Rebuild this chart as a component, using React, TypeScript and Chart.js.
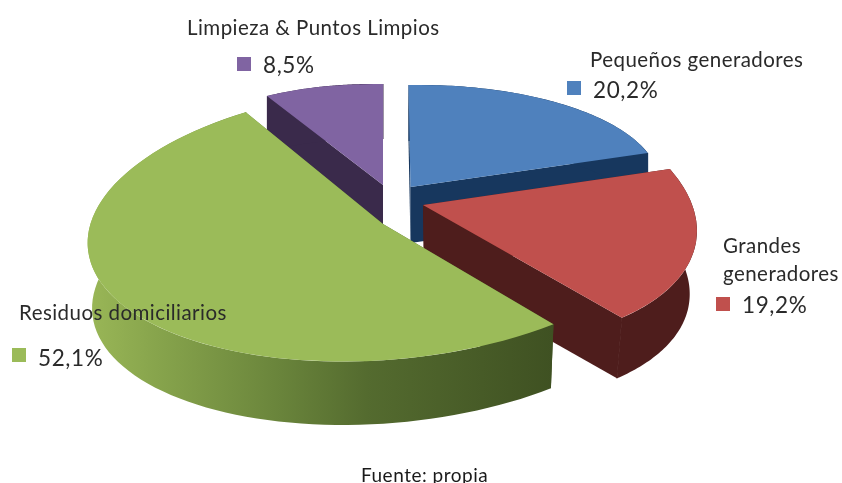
import React, { useEffect, useRef } from "react";
import { Chart, registerables } from "chart.js";

Chart.register(...registerables);

const categories = ["Pequeños generadores", "Grandes generadores", "Residuos domiciliarios", "Limpieza & Puntos Limpios"];
const shares = [20.2, 19.2, 52.1, 8.5];
const shareLabels = ["20,2%", "19,2%", "52,1%", "8,5%"];
const topColors = ["#4f81bd", "#c0504d", "#9bbb59", "#8064a2"];
const wallColors = ["#17375e", "#4e1d1c", "#4f632c", "#3a2a4b"];
const sourceNote = "Fuente: propia";

// Perspective of each exploded slice: [apexX, apexY, m11, m12, m21, m22, wallDx, wallDy, wallScale]
const frames = [
  [410.5, 187, 249, 2, -4, 102, 0, 56, 1],
  [423, 205, 271, 40, 5.6, 139, 1, 64, 0.97],
  [383, 224, 295, -15, -12, 137, 0, 65.5, 0.985],
  [383, 185, 228, 0, 4, 101, 0, 55, 1],
];
const paintOrder = [3, 0, 1, 2];

const pie3d = {
  id: "pie3d",
  beforeDatasetDraw(chart: any) {
    const { ctx } = chart;
    const arcs = chart.getDatasetMeta(0).data;
    for (const i of paintOrder) {
      const arc = arcs[i];
      const [cx, cy, a, b, c, d, dx, dy, s] = frames[i];
      const { startAngle, endAngle, outerRadius: r, x, y } = arc.getProps(
        ["startAngle", "endAngle", "outerRadius", "x", "y"],
        true
      );
      const top = (t: number) => [cx + a * Math.cos(t) + b * Math.sin(t), cy + c * Math.cos(t) + d * Math.sin(t)];
      const low = (t: number) => {
        const p = top(t);
        return [cx + (p[0] - cx) * s + dx, cy + (p[1] - cy) * s + dy];
      };
      let fill: any = wallColors[i];
      if (i === 2) {
        const g = ctx.createLinearGradient(87, 0, 553, 0);
        g.addColorStop(0, "#9ab757");
        g.addColorStop(0.15, "#87a44c");
        g.addColorStop(0.4, "#6b863c");
        g.addColorStop(0.6, "#546b2f");
        g.addColorStop(1, "#3f5122");
        fill = g;
      }
      ctx.save();
      ctx.fillStyle = fill;
      ctx.strokeStyle = fill;
      ctx.lineWidth = 1;
      // radial cut walls
      for (const t of [startAngle, endAngle]) {
        const p = top(t);
        const q = low(t);
        ctx.beginPath();
        ctx.moveTo(cx, cy);
        ctx.lineTo(p[0], p[1]);
        ctx.lineTo(q[0], q[1]);
        ctx.lineTo(cx + dx, cy + dy);
        ctx.closePath();
        ctx.fill();
      }
      // outer curved wall
      const n = 80;
      ctx.beginPath();
      for (let k = 0; k <= n; k++) {
        const p = top(startAngle + ((endAngle - startAngle) * k) / n);
        if (k === 0) ctx.moveTo(p[0], p[1]);
        else ctx.lineTo(p[0], p[1]);
      }
      for (let k = n; k >= 0; k--) {
        const q = low(startAngle + ((endAngle - startAngle) * k) / n);
        ctx.lineTo(q[0], q[1]);
      }
      ctx.closePath();
      ctx.fill();
      // close the seam where the flat and curved walls meet
      const seamTop = top(endAngle);
      const seamLow = low(endAngle);
      ctx.beginPath();
      ctx.moveTo(seamTop[0], seamTop[1]);
      ctx.lineTo(seamLow[0], seamLow[1]);
      ctx.stroke();
      ctx.restore();

      // top face: the library's own arc, placed by the slice's frame
      ctx.save();
      ctx.transform(a / r, c / r, b / r, d / r, cx, cy);
      ctx.translate(-x, -y);
      arc.draw(ctx, chart.chartArea);
      ctx.restore();
    }
    return false;
  },
};

const font = "Lato, 'Open Sans', sans-serif";
const textColor = "#2a2a2a";

function Txt({ x, y, size, children, color = textColor, spacing = 0 }: any) {
  return (
    <div
      style={{
        position: "absolute",
        left: x,
        top: y,
        fontFamily: font,
        fontSize: size,
        lineHeight: "26px",
        height: 26,
        color,
        whiteSpace: "nowrap",
        letterSpacing: spacing,
      }}
    >
      {children}
    </div>
  );
}

function Sq({ x, y, color }: any) {
  return <div style={{ position: "absolute", left: x, top: y, width: 14, height: 14, background: color }} />;
}

export default function App() {
  const ref = useRef<HTMLCanvasElement>(null);
  useEffect(() => {
    const chart = new Chart(ref.current as HTMLCanvasElement, {
      type: "pie",
      data: {
        labels: categories,
        datasets: [{ data: shares, backgroundColor: topColors, borderWidth: 0, clip: false } as any],
      },
      options: {
        animation: false,
        responsive: false,
        plugins: { legend: { display: false }, tooltip: { enabled: false } },
      },
      plugins: [pie3d as any],
    });
    return () => chart.destroy();
  }, []);
  const ls = 0.45;
  const lp = 0.6;
  return (
    <div style={{ position: "absolute", left: 0, top: 0, width: 842, height: 483, background: "#fff", overflow: "hidden" }}>
      <canvas ref={ref} width={842} height={483} style={{ position: "absolute", left: 0, top: 0 }} />
      <Txt x={187} y={14} size={20.5} spacing={ls}>{categories[3]}</Txt>
      <Sq x={237} y={57} color={topColors[3]} />
      <Txt x={263} y={52} size={22.5} spacing={lp}>{shareLabels[3]}</Txt>
      <Txt x={590} y={46} size={20.5} spacing={ls}>{categories[0]}</Txt>
      <Sq x={567} y={81} color={topColors[0]} />
      <Txt x={593} y={77} size={22.5} spacing={lp}>{shareLabels[0]}</Txt>
      <Txt x={723} y={232} size={20.5} spacing={ls}>Grandes</Txt>
      <Txt x={723} y={260} size={20.5} spacing={ls}>generadores</Txt>
      <Sq x={716} y={297} color={topColors[1]} />
      <Txt x={742} y={292} size={22.5} spacing={lp}>{shareLabels[1]}</Txt>
      <Txt x={19} y={299} size={20.5} spacing={ls}>{categories[2]}</Txt>
      <Sq x={12} y={348} color={topColors[2]} />
      <Txt x={38} y={345} size={22.5} spacing={lp}>{shareLabels[2]}</Txt>
      <Txt x={361} y={462} size={19} color="#1a1a1a" spacing={0.5}>{sourceNote}</Txt>
    </div>
  );
}
